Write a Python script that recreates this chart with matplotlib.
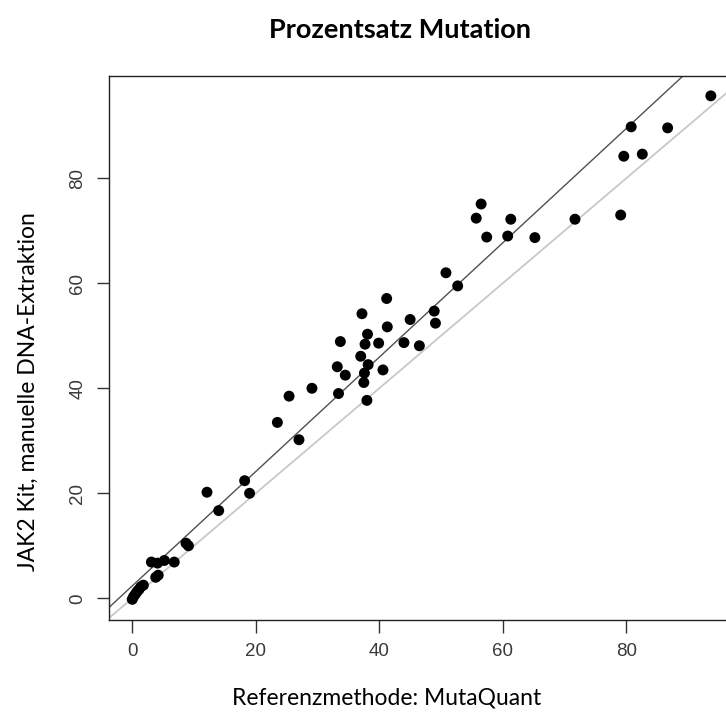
import matplotlib
matplotlib.use("Agg")
import matplotlib.pyplot as plt

# Referenzmethode (MutaQuant) vs. JAK2 Kit
referenz = [0.0, 0.2, 0.5, 0.8, 1.1, 1.4, 1.8, 3.1, 3.8, 4.2,
            4.1, 5.2, 6.8, 8.7, 9.1, 12.1, 14.0, 18.2, 19.0, 23.5,
            25.4, 27.0, 29.1, 33.2, 33.4, 33.7, 34.5, 37.0, 37.2, 37.5,
            37.6, 37.7, 38.0, 38.1, 38.2, 39.9, 40.6, 41.2, 41.3, 44.0,
            45.0, 46.5, 48.9, 49.1, 50.8, 52.7, 55.7, 56.5, 57.4, 60.8,
            61.3, 65.2, 71.7, 79.1, 79.6, 80.8, 82.6, 86.7, 93.7]
jak2 = [-0.2, 0.3, 0.8, 1.3, 1.7, 2.2, 2.5, 6.9, 4.0, 4.4,
        6.7, 7.2, 6.9, 10.5, 10.0, 20.2, 16.7, 22.4, 20.0, 33.5,
        38.5, 30.2, 40.0, 44.1, 39.0, 48.9, 42.5, 46.1, 54.2, 41.1,
        42.9, 48.4, 37.7, 50.3, 44.5, 48.6, 43.5, 57.1, 51.7, 48.7,
        53.1, 48.1, 54.7, 52.4, 62.0, 59.5, 72.4, 75.1, 68.8, 69.0,
        72.2, 68.7, 72.2, 73.0, 84.2, 89.8, 84.6, 89.6, 95.7]

# fitted line (intercept, slope) and identity line
fit_line = (2.36, 1.089)
ident_line = (0.0, 1.0)

xticks = [0, 20, 40, 60, 80]
yticks = [0, 20, 40, 60, 80]

W, H = 726, 715
fig = plt.figure(figsize=(W / 100, H / 100), dpi=100)
# plot region runs past the right edge, like the cropped original
ax = fig.add_axes([109.1 / W, (H - 619.5) / H, (734 - 109.1) / W, (619.5 - 75.9) / H])

ax.axline((0, ident_line[0]), slope=ident_line[1], color="#c8c8c8", lw=1.3, zorder=1)
ax.axline((0, fit_line[0]), slope=fit_line[1], color="#505050", lw=1.0, zorder=2)
ax.scatter(referenz, jak2, s=62, color="black", edgecolors="none", zorder=3)

ax.set_xlim(-3.75, 97.45)
ax.set_ylim(-4.04, 99.5)
ax.set_xticks(xticks)
ax.set_yticks(yticks)

tickfont = dict(family="Liberation Sans", size=13.5, color="#3a3a3a")
ax.set_xticklabels([str(t) for t in xticks], **tickfont)
ax.set_yticklabels([str(t) for t in yticks], rotation=90, va="center", **tickfont)
ax.tick_params(axis="both", length=9, width=1, color="#333333")
ax.tick_params(axis="x", pad=8)
ax.tick_params(axis="y", pad=7.5)
for sp in ax.spines.values():
    sp.set_color("#222222")
    sp.set_linewidth(1.0)

fig.text(400 / W, 1 - 30 / H, "Prozentsatz Mutation", ha="center", va="center",
         fontsize=19.5, fontweight="bold", family="Lato")
fig.text(387 / W, 1 - 698 / H, "Referenzmethode: MutaQuant", ha="center", va="center",
         fontsize=16.5, family="Lato")
fig.text(28 / W, 1 - 392 / H, "JAK2 Kit, manuelle DNA-Extraktion", ha="center", va="center",
         rotation=90, fontsize=16.5, family="Lato")

fig.savefig("out.png", dpi=100)
